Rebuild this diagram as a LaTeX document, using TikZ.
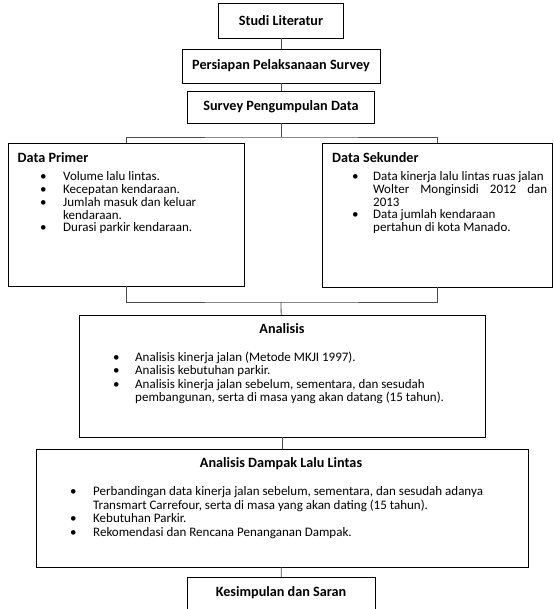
\documentclass[tikz,border=0pt]{standalone}
\usepackage{fontspec}
\setmainfont{Carlito}
\usetikzlibrary{positioning}
\tikzset{
    mybox/.style = {rectangle, draw=black, line width=0.8pt, outer sep=0pt, inner sep=0pt, align=center, font=\bfseries\fontsize{14.2}{15}\selectfont},
    mytitle/.style = {anchor=base west, inner sep=0pt, font=\bfseries\fontsize{14.2}{15}\selectfont},
    mytitlec/.style = {anchor=base, inner sep=0pt, font=\bfseries\fontsize{14.2}{15}\selectfont},
    mylist/.style = {anchor=base west, inner sep=0pt, font=\fontsize{13}{#1}\selectfont},
    edgen/.style = {-, line width=0.8pt, black!70}
}
\newcommand{\bul}[1]{\makebox[#1][l]{\textbullet}}

\begin{document}
\begin{tikzpicture}[x=1pt,y=-1pt]
\path[use as bounding box] (0,0) rectangle (553,609);
%
\node[mybox, minimum width=125pt, minimum height=35pt] at (281,20.5) (studi) {Studi Literatur};
\node[mybox, minimum width=198pt, minimum height=34pt] at (281,66) (persiapan) {Persiapan Pelaksanaan Survey};
\node[mybox, minimum width=187pt, minimum height=32pt] at (281,107) (survey) {Survey Pengumpulan Data};
%
\node[mybox, minimum width=236pt, minimum height=143pt] at (126.5,214.5) (primer) {};
\node[mybox, minimum width=230pt, minimum height=144pt] at (437,215) (sekunder) {};
\node[mybox, minimum width=406pt, minimum height=122pt] at (282,376) (analisis) {};
\node[mybox, minimum width=492pt, minimum height=118pt] at (282,508) (adll) {};
\node[mybox, minimum width=188pt, minimum height=40pt] at (281,597) (kesimpulan) {};
%
\node[mytitle] at (17.5,162.5) (primertitle) {Data Primer};
\node[mylist=12.7] at (40,180.5) (primerlist) {\begin{tabular}[t]{@{}l@{}}
\bul{23pt}Volume lalu lintas.\\
\bul{23pt}Kecepatan kendaraan.\\
\bul{23pt}Jumlah masuk dan keluar\\
\hspace*{23pt}kendaraan.\\
\bul{23pt}Durasi parkir kendaraan.
\end{tabular}};
%
\node[mytitle] at (332,162.5) (sekundertitle) {Data Sekunder};
\node[mylist=12.7] at (352,180.5) (sekunderlist) {\begin{tabular}[t]{@{}l@{}}
\bul{21pt}Data kinerja lalu lintas ruas jalan\\
\hspace*{21pt}\makebox[174pt][s]{Wolter Monginsidi 2012 dan}\\
\hspace*{21pt}2013\\
\bul{21pt}Data jumlah kendaraan\\
\hspace*{21pt}pertahun di kota Manado.
\end{tabular}};
%
\node[mytitlec] at (282,333.5) (analisistitle) {Analisis};
\node[mylist=13.3] at (113,361.5) (analisislist) {\begin{tabular}[t]{@{}l@{}}
\bul{22pt}Analisis kinerja jalan (Metode MKJI 1997).\\
\bul{22pt}Analisis kebutuhan parkir.\\
\bul{22pt}Analisis kinerja jalan sebelum, sementara, dan sesudah\\
\hspace*{22pt}pembangunan, serta di masa yang akan datang (15 tahun).
\end{tabular}};
%
\node[mytitlec] at (281,467.5) (adlltitle) {Analisis Dampak Lalu Lintas};
\node[mylist=13.7] at (70,495.5) (adlllist) {\begin{tabular}[t]{@{}l@{}}
\bul{23pt}Perbandingan data kinerja jalan sebelum, sementara, dan sesudah adanya\\
\hspace*{23pt}Transmart Carrefour, serta di masa yang akan dating (15 tahun).\\
\bul{23pt}Kebutuhan Parkir.\\
\bul{23pt}Rekomendasi dan Rencana Penanganan Dampak.
\end{tabular}};
%
\node[mytitlec] at (281,596.5) (kesimpulantitle) {Kesimpulan dan Saran};
%
\coordinate (split) at (281,137);
\coordinate (join) at (281,302);
%
\draw[edgen] (studi) -- (persiapan);
\draw[edgen] (persiapan) -- (survey);
\draw[edgen] (survey) -- (split);
\draw[edgen] (primer.north) |- (split) -| (sekunder.north);
\draw[edgen] (primer.south) |- (join) -| (sekunder.south);
\draw[edgen] (join) -- (analisis);
\draw[edgen] (analisis) -- (adll);
\draw[edgen] (adll) -- (kesimpulan);

\end{tikzpicture}
\end{document}
